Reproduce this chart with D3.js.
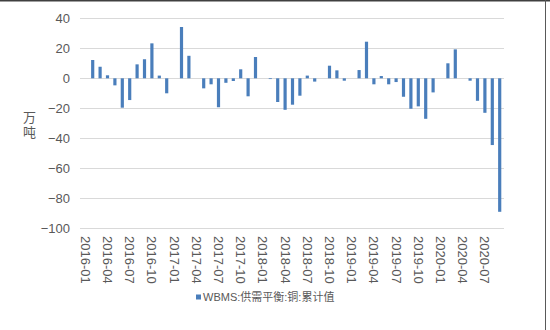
<!DOCTYPE html>
<html>
<head>
<meta charset="utf-8">
<script src="https://cdn.jsdelivr.net/npm/d3@7/dist/d3.min.js"></script>
<style>
  html, body { margin: 0; padding: 0; background: #fff; }
  svg { display: block; }
  text { font-family: "Liberation Sans", "Noto Sans CJK SC", sans-serif; fill: #595959; }
</style>
</head>
<body>
<svg id="chart" width="550" height="330"></svg>
<script>
// Monthly categories, 2016-01 .. 2020-09
const months = [];
for (let yr = 2016; yr <= 2020; yr++) {
  for (let m = 1; m <= 12; m++) {
    if (yr === 2020 && m > 9) break;
    months.push(yr + "-" + String(m).padStart(2, "0"));
  }
}

// WBMS copper supply/demand balance, cumulative (10k tonnes); null = no value
const balance2016 = [null, 12.2, 7.7, 2, -4.7, -19.6, -14.5, 9.3, 12.7, 23.3, 1.8, -10];
const balance2017 = [null, 34.2, 15, null, -6.7, -4, -19.3, -3, -1.8, 6, -12, 14.2];
const balance2018 = [null, -0.5, -15.8, -21, -17.6, -11.6, 1.8, -2.2, null, 8.4, 5.3, -1.6];
const balance2019 = [null, 5.5, 24.4, -4, 1.5, -4, -2.5, -12.3, -20.3, -18.7, -27, -9.4];
const balance2020 = [null, 10, 19.3, null, -1.6, -15, -23, -44.5, -89];
const values = [].concat(balance2016, balance2017, balance2018, balance2019, balance2020);

const yTicks = [40, 20, 0, -20, -40, -60, -80, -100];
const xTickLabels = months.filter((d, i) => i % 3 === 0);
const seriesName = "WBMS:供需平衡:铜:累计值";
const unitLabel = ["万", "吨"];

const data = months.map((m, i) => ({ month: m, value: values[i] }));

const svg = d3.select("#chart");
const plotLeft = 81.6, plotRight = 503.4, plotTop = 18.3, plotBottom = 228.3;

const x = d3.scaleBand().domain(months).range([plotLeft, plotRight]).paddingInner(0.57).paddingOuter(0.285);
const y = d3.scaleLinear().domain([-100, 40]).range([plotBottom, plotTop]);

// frame lines
svg.append("line").attr("x1", 0).attr("x2", 550).attr("y1", 0.75).attr("y2", 0.75)
  .attr("stroke", "#404040").attr("stroke-width", 1.5);
svg.append("line").attr("x1", 545.5).attr("x2", 545.5).attr("y1", 0).attr("y2", 330)
  .attr("stroke", "#595959").attr("stroke-width", 1);

// gridlines
svg.append("g").selectAll("line").data(yTicks).join("line")
  .attr("x1", 80).attr("x2", 504)
  .attr("y1", d => Math.round(y(d)) + 0.5).attr("y2", d => Math.round(y(d)) + 0.5)
  .attr("stroke", "#d9d9d9").attr("stroke-width", 1);

// y axis labels
const yAxis = d3.axisLeft(y).tickValues(yTicks).tickSize(0).tickPadding(0);
const gy = svg.append("g").attr("transform", "translate(70,0)").call(yAxis);
gy.select(".domain").remove();
gy.selectAll("text").attr("font-size", 13).attr("fill", "#595959")
  .attr("font-family", "Liberation Sans, sans-serif");

// bars
svg.append("g").selectAll("rect").data(data.filter(d => d.value !== null)).join("rect")
  .attr("x", d => x(d.month))
  .attr("width", x.bandwidth())
  .attr("y", d => y(Math.max(0, d.value)))
  .attr("height", d => Math.abs(y(d.value) - y(0)))
  .attr("fill", "#4a7ebb");

// x axis labels (rotated, read top to bottom)
const xAxis = d3.axisBottom(x).tickValues(xTickLabels).tickSize(0).tickPadding(0);
const gx = svg.append("g").attr("transform", "translate(0,236)").call(xAxis);
gx.select(".domain").remove();
gx.selectAll("text")
  .attr("font-size", 13).attr("fill", "#595959")
  .attr("font-family", "Liberation Sans, sans-serif")
  .attr("transform", "rotate(90)")
  .attr("text-anchor", "start")
  .attr("x", 0).attr("y", 0).attr("dy", "0.35em");

// unit title, stacked characters
svg.append("g").selectAll("text").data(unitLabel).join("text")
  .attr("x", 29.5).attr("y", (d, i) => 117.5 + i * 14.5).attr("dy", "0.35em")
  .attr("text-anchor", "middle").attr("font-size", 13)
  .attr("font-family", "Noto Sans CJK SC, sans-serif")
  .text(d => d);

// legend
const lg = svg.append("g").attr("transform", "translate(196,297)");
lg.append("rect").attr("x", 0).attr("y", -2.5).attr("width", 5).attr("height", 5).attr("fill", "#4a7ebb");
lg.append("text").attr("x", 7).attr("y", 0).attr("dy", "0.35em")
  .attr("font-size", 11).attr("font-family", "Noto Sans CJK SC, sans-serif")
  .text(seriesName);
</script>
</body>
</html>
